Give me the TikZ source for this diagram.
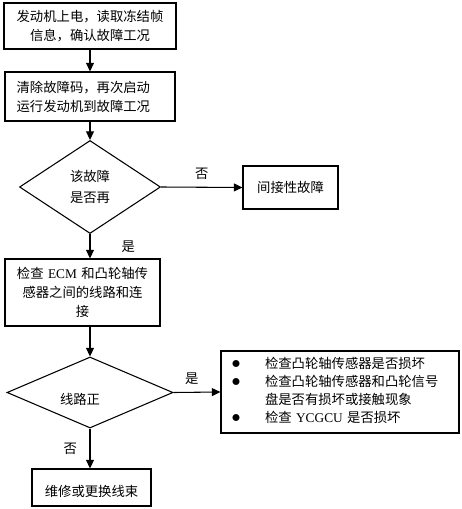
\documentclass[tikz,border=0pt]{standalone}
\usepackage{fontspec}
\setmainfont{Liberation Serif}
\newfontfamily\cjk{Noto Sans CJK SC}
\usetikzlibrary{arrows.meta,shapes.geometric}

\begin{document}
\begin{tikzpicture}[
    x=0.75pt, y=-0.75pt,
    flow/.style={-{Triangle[length=6.5pt,width=6pt]}, line width=0.8pt},
    stepbox/.style={draw, line width=0.8pt, inner sep=0pt, font=\fontsize{10pt}{14.25pt}\selectfont\cjk},
    decision/.style={draw, diamond, line width=0.8pt, inner sep=0pt, font=\fontsize{10pt}{16pt}\selectfont\cjk, align=center},
    answer/.style={font=\fontsize{10pt}{12pt}\selectfont\cjk}
]
    \useasboundingbox (0,0) rectangle (461,509);

    \node[stepbox, minimum width=129pt, minimum height=34.5pt, text width=112pt, align=center] (power) at (90,26) {发动机上电，读取冻结帧\\信息，确认故障工况};
    \node[stepbox, minimum width=127.5pt, minimum height=36.75pt, text width=110pt, align=left] (restart) at (90,96.5) {清除故障码，再次启动\\运行发动机到故障工况};
    \node[decision, minimum width=105.75pt, minimum height=69.75pt] (again) at (90,187) {该故障\\是否再};
    \node[stepbox, minimum width=71.25pt, minimum height=32.25pt] (intermit) at (290.5,187.5) {间接性故障};
    \node[stepbox, minimum width=116.25pt, minimum height=50.25pt, text width=106pt, align=center] (wiring) at (82.5,292.5) {检查 {\rmfamily ECM} 和凸轮轴传\\感器之间的线路和连\\接};
    \node[decision, minimum width=124.5pt, minimum height=53.25pt] (lineok) at (90,392.5) {\raisebox{-9pt}[0pt][0pt]{线路正\hspace{15pt}}};
    \node[stepbox, minimum width=178.5pt, minimum height=61.5pt, text width=178.5pt, align=left, font=\fontsize{10pt}{13.5pt}\selectfont\cjk] (checks) at (340,392) {%
        \begin{tabular}{@{\hspace{8pt}}p{25pt}@{}l@{}}
        \scalebox{1.35}{$\bullet$} & 检查凸轮轴传感器是否损坏\\
        \scalebox{1.35}{$\bullet$} & 检查凸轮轴传感器和凸轮信号\\
                  & 盘是否有损坏或接触现象\\
        \scalebox{1.35}{$\bullet$} & 检查 {\rmfamily YCGCU} 是否损坏
        \end{tabular}};
    \node[stepbox, minimum width=89.25pt, minimum height=27.75pt] (repair) at (91.5,487.5) {\raisebox{-7pt}[0pt][0pt]{维修或更换线束}};

    \draw[flow] (power.south) -- (restart.north);
    \draw[flow] (restart.south) -- (again.north);
    \draw[flow] (again.east) -- node[answer, above=2pt] {否} (intermit.west);
    \draw[flow] (again.south) -- node[answer, right=20pt] {是} (again.south |- wiring.north);
    \draw[flow] (wiring.south -| lineok.north) -- (lineok.north);
    \draw[flow] (lineok.east) -- node[answer, above=2pt, xshift=-4pt] {是} (checks.west);
    \draw[flow] (lineok.south) -- node[answer, left=6pt] {否} (lineok.south |- repair.north);
\end{tikzpicture}
\end{document}
